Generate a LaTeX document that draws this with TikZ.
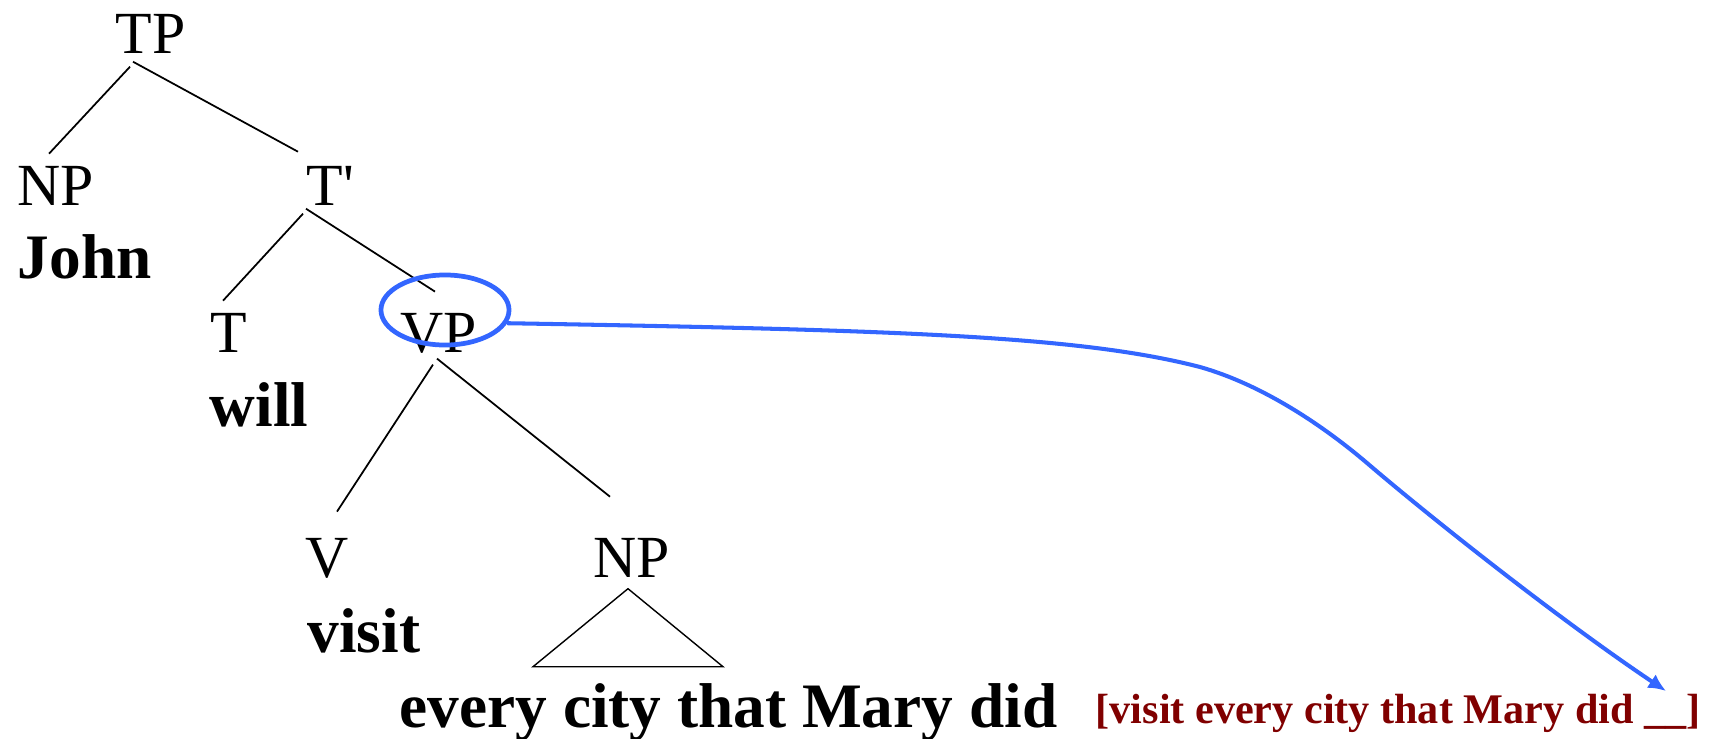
\documentclass[tikz,border=0pt]{standalone}
\usepackage{fontspec}
\setmainfont{Liberation Serif}
\usetikzlibrary{calc}
\usetikzlibrary{shapes.geometric}
\usetikzlibrary{arrows.meta}
\definecolor{moveblue}{RGB}{51,102,255}
\definecolor{copyred}{RGB}{128,0,0}

\begin{document}
\begin{tikzpicture}[x=0.01cm,y=-0.01cm,
		cat/.style={anchor=base west,inner sep=0pt,font=\fontsize{17}{20}\selectfont},
		word/.style={anchor=base west,inner sep=0pt,font=\fontsize{18}{22}\selectfont\bfseries},
		branch/.style={line width=0.5pt},
		ring/.style={draw=moveblue,ellipse,line width=1.35pt,minimum width=1.28cm,minimum height=0.70cm,inner sep=0pt},
		move/.style={draw=moveblue,line width=1.15pt,-{Latex[length=5pt,width=4.6pt]}}]
			\useasboundingbox (0,0) rectangle (1714,739);
			% labels
			\node[cat] (tp) at (115,53) {TP};
			\node[cat] (np1) at (17,205) {NP};
			\node[word] (john) at (17,278) {John};
			\node[cat] (tbar) at (306,205) {T\textquotesingle};
			\node[cat] (t) at (210,352) {T};
			\node[word] (will) at (209,426) {will};
			\node[cat] (vp) at (400,352) {VP};
			\node[cat] (v) at (305,577) {V};
			\node[word] (visit) at (307,652) {visit};
			\node[cat] (np2) at (593,577) {NP};
			\node[word] (every) at (399,727) {every city that Mary did};
			\node[anchor=base west,inner sep=0pt,text=copyred,font=\fontsize{12}{14}\selectfont\bfseries] (copy) at (1095,723) {[visit every city that Mary did \_\_]};
			% branches
			\draw[branch] ($(tp.south west)+(15,13)$) -- ($(np1.south west)+(32,-52)$);
			\draw[branch] ($(tp.south west)+(18,8)$) -- ($(tbar.south west)+(-8,-54)$);
			\draw[branch] ($(tbar.south west)+(-3,8)$) -- ($(t.south west)+(13,-52)$);
			\draw[branch] ($(tbar.south west)+(0,3)$) -- ($(vp.south west)+(35,-62)$);
			\draw[branch] ($(vp.south west)+(33,11)$) -- ($(v.south west)+(32,-67)$);
			\draw[branch] ($(vp.south west)+(37,5)$) -- ($(np2.south west)+(17,-81)$);
			\draw[thin] ($(np2.south west)+(35,11)$) -- ++(-95,78) -- ++(190,0) -- cycle;
			% movement
			\node[ring] (vpring) at (445,310) {};
			\coordinate (blank) at (1666,691);
			\draw[move] (vpring.-12) .. controls (900,330) and (1080,336) .. (1200,367)
				.. controls (1260,384) and (1320,423) .. (1367,463)
				.. controls (1430,517) and (1560,620) .. (blank);
		\end{tikzpicture}
\end{document}
